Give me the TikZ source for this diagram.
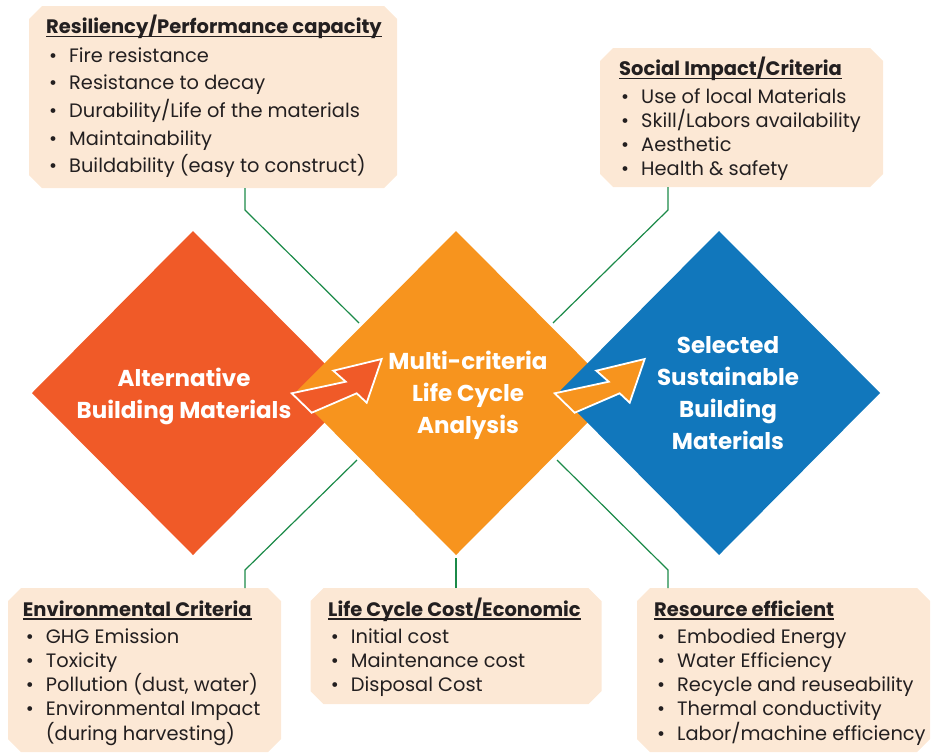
\documentclass[tikz,border=0pt]{standalone}
\usepackage{fontspec}
\setmainfont{Poppins}
\definecolor{altc}{HTML}{F05A28}
\definecolor{mcac}{HTML}{F7941E}
\definecolor{ssmc}{HTML}{1177BC}
\definecolor{boxc}{HTML}{FCE8D5}
\definecolor{linkc}{HTML}{1B8A48}
\definecolor{txtc}{HTML}{231F20}
\usetikzlibrary{shapes.geometric,positioning,calc}
\newcommand{\bul}{\makebox[20pt][l]{•}}
\newcommand{\hul}[1]{\setbox0\hbox{#1}\rlap{\rule[-3.6pt]{\wd0}{1.3pt}}\box0}

\begin{document}
\begin{tikzpicture}[x=1pt, y=-1pt,
  diam/.style={diamond, minimum width=322pt, minimum height=324pt, inner sep=0pt, outer sep=0pt},
  dtxt/.style={anchor=base, align=center, inner sep=0pt, text=white, font=\fontsize{23}{32}\selectfont\bfseries},
  crit/.style={rectangle, inner sep=0pt, outer sep=0pt, path picture={
    \fill[boxc] ([xshift=13pt]path picture bounding box.north west) -- ([xshift=-13pt]path picture bounding box.north east)
      -- ([yshift=-13pt]path picture bounding box.north east) -- ([yshift=13pt]path picture bounding box.south east)
      -- ([xshift=-13pt]path picture bounding box.south east) -- ([xshift=13pt]path picture bounding box.south west)
      -- ([yshift=13pt]path picture bounding box.south west) -- ([yshift=-13pt]path picture bounding box.north west) -- cycle;}},
  head/.style={anchor=base west, inner sep=0pt, text=txtc, font=\fontsize{19.5}{24.1}\selectfont\bfseries},
  list/.style={anchor=base west, inner sep=0pt, align=left, text=txtc, font=\fontsize{19.4}{24.1}\selectfont},
  link/.style={draw=linkc, line width=1.2pt},
  flowarr/.style={draw=white, line width=1.8pt, line join=miter},
]
\useasboundingbox (0,0) rectangle (931,753);

% diamonds
\node[diam, fill=altc] (alt) at (193,393) {};
\node[diam, fill=mcac] (mca) at (456,393) {};
\node[diam, fill=ssmc] (ssm) at (719,393) {};

% arrows between the steps
\begin{scope}[shift={(291.7,393.3)}]
  \draw[flowarr, fill=altc] (0,0) -- (54,-11.6) -- (41.6,-22.6) -- (90,-34.3) -- (75,9.4) -- (65,0) -- (20,19.4) -- cycle;
\end{scope}
\begin{scope}[shift={(554.7,393.3)}]
  \draw[flowarr, fill=mcac] (0,0) -- (54,-11.6) -- (41.6,-22.6) -- (90,-34.3) -- (75,9.4) -- (65,0) -- (20,19.4) -- cycle;
\end{scope}

% anchor base = last line
\node[dtxt] (alttxt) at (184,418.7) {Alternative\\Building Materials};
\node[dtxt] (mcatxt) at (468,433.3) {Multi-criteria\\Life Cycle\\Analysis};
\node[dtxt] (ssmtxt) at (728,449.3) {Selected\\Sustainable\\Building\\Materials};

% criteria boxes
\node[crit, minimum width=368pt, minimum height=182pt] (b1) at (213,97) {};
\node[crit, minimum width=283pt, minimum height=139pt] (b2) at (741.5,117.5) {};
\node[crit, minimum width=273pt, minimum height=164pt] (b3) at (144.5,670) {};
\node[crit, minimum width=291pt, minimum height=116pt] (b4) at (456,646) {};
\node[crit, minimum width=293pt, minimum height=164pt] (b5) at (783.5,670) {};

\node[head] (h1) at (46,33.5) {\hul{Resiliency/Performance capacity}};
\node[list, font=\fontsize{19.4}{27.7}\selectfont] (l1) at (49,172.8) {\bul Fire resistance\\\bul Resistance to decay\\\bul Durability/Life of the materials\\\bul Maintainability\\\bul Buildability (easy to construct)};

\node[head] (h2) at (619,75.7) {\hul{Social Impact/Criteria}};
\node[list] (l2) at (621,175.7) {\bul Use of local Materials\\\bul Skill/Labors availability\\\bul Aesthetic\\\bul Health \& safety};

\node[head] (h3) at (22.7,616) {\hul{Environmental Criteria}};
\node[list] (l3) at (25.7,740) {\bul GHG Emission\\\bul Toxicity\\\bul Pollution (dust, water)\\\bul Environmental Impact\\\hspace*{20pt}(during harvesting)};

\node[head] (h4) at (328,616) {\hul{Life Cycle Cost/Economic}};
\node[list] (l4) at (330.7,691.7) {\bul Initial cost\\\bul Maintenance cost\\\bul Disposal Cost};

\node[head] (h5) at (654,616) {\hul{Resource efficient}};
\node[list] (l5) at (657,740) {\bul Embodied Energy\\\bul Water Efficiency\\\bul Recycle and reuseability\\\bul Thermal conductivity\\\bul Labor/machine efficiency};

% connectors
\coordinate (k1) at (359,323);
\coordinate (k2) at (553,323);
\coordinate (k3) at (357,460);
\coordinate (k5) at (557,460);
\draw[link] ([xshift=32pt]b1.south) -- ++(0,22) -- (k1);
\draw[link] ([xshift=-73.5pt]b2.south) -- ++(0,23) -- (k2);
\draw[link] ([xshift=100.5pt]b3.north) -- ++(0,-18) -- (k3);
\draw[link] (b4.north) -- ([yshift=-3pt]mca.south);
\draw[link] ([xshift=-115.5pt]b5.north) -- ++(0,-18) -- (k5);
\end{tikzpicture}
\end{document}
